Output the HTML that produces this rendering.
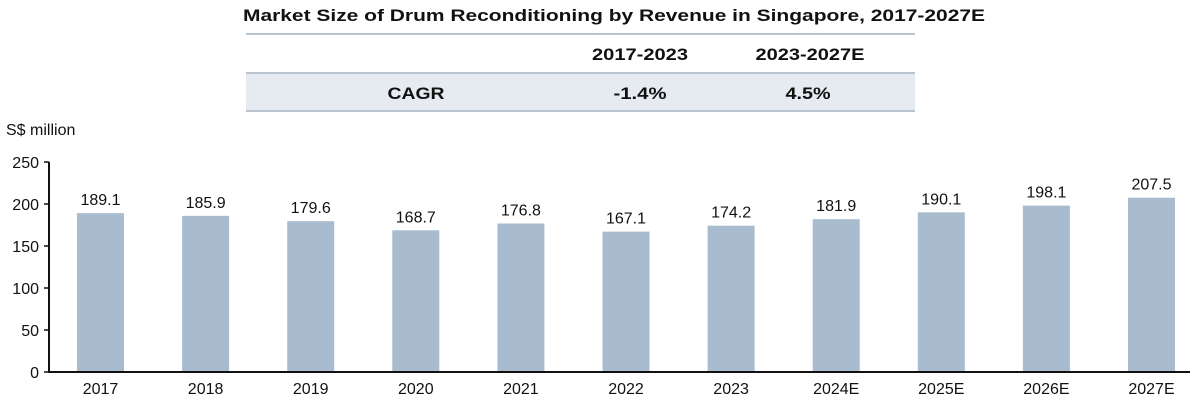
<!DOCTYPE html>
<html><head><meta charset="utf-8"><style>
body{margin:0;background:#fff;font-family:"Liberation Sans",sans-serif;}
svg text{font-family:"Liberation Sans",sans-serif;}
</style></head><body>
<svg width="1200" height="402">
<text x="614" y="21" text-anchor="middle" font-size="17" font-weight="bold" fill="#111" textLength="742" lengthAdjust="spacingAndGlyphs">Market Size of Drum Reconditioning by Revenue in Singapore, 2017-2027E</text>
<g>
<line x1="246" x2="915" y1="34" y2="34" stroke="#b8c4cf" stroke-width="2"/>
<rect x="246" y="74" width="669" height="36" fill="#e6ebf1"/>
<line x1="246" x2="915" y1="73" y2="73" stroke="#b8c4cf" stroke-width="2"/>
<line x1="246" x2="915" y1="111" y2="111" stroke="#b8c4cf" stroke-width="2"/>
<text x="640" y="60" text-anchor="middle" font-size="17" font-weight="bold" fill="#111" textLength="96" lengthAdjust="spacingAndGlyphs">2017-2023</text>
<text x="810" y="60" text-anchor="middle" font-size="17" font-weight="bold" fill="#111" textLength="109" lengthAdjust="spacingAndGlyphs">2023-2027E</text>
<text x="416" y="99" text-anchor="middle" font-size="17" font-weight="bold" fill="#111" textLength="57" lengthAdjust="spacingAndGlyphs">CAGR</text>
<text x="640" y="99" text-anchor="middle" font-size="17" font-weight="bold" fill="#111" textLength="53" lengthAdjust="spacingAndGlyphs">-1.4%</text>
<text x="808" y="99" text-anchor="middle" font-size="17" font-weight="bold" fill="#111" textLength="45" lengthAdjust="spacingAndGlyphs">4.5%</text>
</g>
<text x="6" y="135" font-size="16" fill="#111">S$ million</text>
<g id="plot"></g>
</svg>
<script>
const categories=["2017","2018","2019","2020","2021","2022","2023","2024E","2025E","2026E","2027E"];
const values=[189.1,185.9,179.6,168.7,176.8,167.1,174.2,181.9,190.1,198.1,207.5];
const yTicks=[0,50,100,150,200,250];
const NS="http://www.w3.org/2000/svg";
const g=document.getElementById('plot');
const y0=372,yTop=162,yMax=250,x0=100.5,step=105.1,bw=47;
const yS=v=>y0-(v/yMax)*(y0-yTop);
const xS=i=>x0+i*step;
function mk(t,a){const e=document.createElementNS(NS,t);for(const k in a)e.setAttribute(k,a[k]);g.appendChild(e);return e;}
yTicks.forEach(t=>{
const l=mk('line',{x1:44,x2:49,y1:yS(t),y2:yS(t),stroke:'#111','stroke-width':1.5});


const tx=mk('text',{x:39,y:yS(t)+6,'text-anchor':'end','font-size':16,fill:'#111'});tx.textContent=t;


});
values.forEach((v,i)=>{
const r=mk('rect',{x:xS(i)-bw/2,y:yS(v),width:bw,height:y0-yS(v),fill:'#a9bccf'});


const t=mk('text',{x:xS(i),y:yS(v)-8,'text-anchor':'middle','font-size':16,fill:'#111'});t.textContent=v.toFixed(1);


const c=mk('text',{x:xS(i),y:394,'text-anchor':'middle','font-size':16,fill:'#111'});c.textContent=categories[i];


});
const ya=mk('line',{x1:49,x2:49,y1:yTop,y2:y0,stroke:'#111','stroke-width':2});


const xa=mk('line',{x1:48,x2:1190,y1:y0,y2:y0,stroke:'#111','stroke-width':2});


</script>
</body></html>
